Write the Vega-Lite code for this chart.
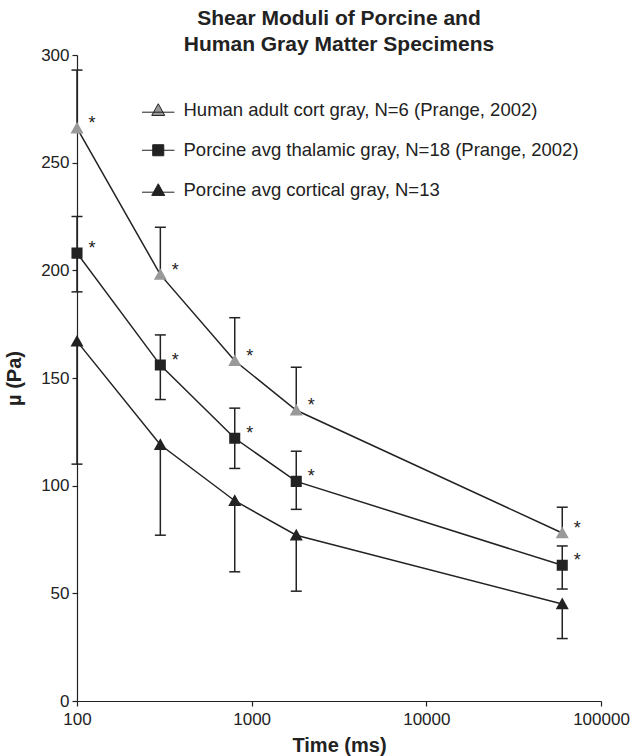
{
  "$schema": "https://vega.github.io/schema/vega-lite/v6.json",
  "width": 524,
  "height": 646,
  "autosize": "none",
  "padding": {"left": 77, "top": 55, "right": 32, "bottom": 55},
  "background": "white",
  "config": {
    "font": "Liberation Sans",
    "view": {"stroke": null},
    "axis": {
      "grid": false,
      "domainColor": "#222",
      "domainWidth": 1.2,
      "tickColor": "#222",
      "tickWidth": 1.2,
      "tickSize": 5,
      "labelColor": "#222",
      "labelFontSize": 17,
      "labelFont": "Liberation Sans",
      "titleColor": "#222",
      "titleFontSize": 20,
      "titleFontWeight": "bold",
      "titleFont": "Liberation Sans"
    }
  },
  "title": {
    "text": ["Shear Moduli of Porcine and", "Human Gray Matter Specimens"],
    "fontSize": 21,
    "fontWeight": "bold",
    "font": "Liberation Sans",
    "color": "#222",
    "lineHeight": 26,
    "anchor": "middle",
    "offset": -9
  },
  "datasets": {
    "pts": [
      {"series": "Human adult cort gray, N=6 (Prange, 2002)", "t": 100, "mu": 266, "star": "*"},
      {"series": "Human adult cort gray, N=6 (Prange, 2002)", "t": 300, "mu": 198, "star": "*"},
      {"series": "Human adult cort gray, N=6 (Prange, 2002)", "t": 800, "mu": 158, "star": "*"},
      {"series": "Human adult cort gray, N=6 (Prange, 2002)", "t": 1800, "mu": 135, "star": "*"},
      {"series": "Human adult cort gray, N=6 (Prange, 2002)", "t": 60000, "mu": 78, "star": "*"},
      {"series": "Porcine avg thalamic gray, N=18  (Prange, 2002)", "t": 100, "mu": 208, "star": "*"},
      {"series": "Porcine avg thalamic gray, N=18  (Prange, 2002)", "t": 300, "mu": 156, "star": "*"},
      {"series": "Porcine avg thalamic gray, N=18  (Prange, 2002)", "t": 800, "mu": 122, "star": "*"},
      {"series": "Porcine avg thalamic gray, N=18  (Prange, 2002)", "t": 1800, "mu": 102, "star": "*"},
      {"series": "Porcine avg thalamic gray, N=18  (Prange, 2002)", "t": 60000, "mu": 63, "star": "*"},
      {"series": "Porcine avg cortical gray, N=13", "t": 100, "mu": 167, "star": ""},
      {"series": "Porcine avg cortical gray, N=13", "t": 300, "mu": 119, "star": ""},
      {"series": "Porcine avg cortical gray, N=13", "t": 800, "mu": 93, "star": ""},
      {"series": "Porcine avg cortical gray, N=13", "t": 1800, "mu": 77, "star": ""},
      {"series": "Porcine avg cortical gray, N=13", "t": 60000, "mu": 45, "star": ""}
    ],
    "err": [
      {"t": 100, "from": 266, "to": 293},
      {"t": 300, "from": 198, "to": 220},
      {"t": 800, "from": 158, "to": 178},
      {"t": 1800, "from": 135, "to": 155},
      {"t": 60000, "from": 78, "to": 90},
      {"t": 100, "from": 208, "to": 225},
      {"t": 100, "from": 208, "to": 190},
      {"t": 300, "from": 156, "to": 170},
      {"t": 300, "from": 156, "to": 140},
      {"t": 800, "from": 122, "to": 136},
      {"t": 800, "from": 122, "to": 108},
      {"t": 1800, "from": 102, "to": 116},
      {"t": 1800, "from": 102, "to": 89},
      {"t": 60000, "from": 63, "to": 72},
      {"t": 60000, "from": 63, "to": 52},
      {"t": 100, "from": 167, "to": 110},
      {"t": 300, "from": 119, "to": 77},
      {"t": 800, "from": 93, "to": 60},
      {"t": 1800, "from": 77, "to": 51},
      {"t": 60000, "from": 45, "to": 29}
    ]
  },
  "layer": [
    {
      "data": {"name": "pts"},
      "mark": {"type": "line", "color": "#222", "strokeWidth": 1.5},
      "encoding": {
        "x": {
          "field": "t", "type": "quantitative", "title": "Time (ms)",
          "scale": {"type": "log", "domain": [100, 100000], "nice": false},
          "axis": {"values": [100, 1000, 10000, 100000], "format": "d", "labelPadding": 5, "titlePadding": 8, "labelFlush": false}
        },
        "y": {
          "field": "mu", "type": "quantitative", "title": "µ (Pa)",
          "scale": {"domain": [0, 300], "nice": false, "zero": true},
          "axis": {"values": [0, 50, 100, 150, 200, 250, 300], "labelPadding": 3, "titlePadding": 16, "labelFlush": false}
        },
        "detail": {"field": "series"}
      }
    },
    {
      "data": {"name": "err"},
      "mark": {"type": "rule", "color": "#222", "strokeWidth": 1.5},
      "encoding": {
        "x": {"field": "t", "type": "quantitative", "title": "Time (ms)"},
        "y": {"field": "from", "type": "quantitative", "title": "µ (Pa)"},
        "y2": {"field": "to"}
      }
    },
    {
      "data": {"name": "err"},
      "mark": {"type": "tick", "orient": "horizontal", "color": "#222", "size": 11, "thickness": 1.5, "opacity": 1},
      "encoding": {
        "x": {"field": "t", "type": "quantitative", "title": "Time (ms)"},
        "y": {"field": "to", "type": "quantitative", "title": "µ (Pa)"}
      }
    },
    {
      "data": {"name": "pts"},
      "mark": {"type": "point", "filled": true, "opacity": 1, "size": 169, "strokeWidth": 0},
      "encoding": {
        "x": {"field": "t", "type": "quantitative", "title": "Time (ms)"},
        "y": {"field": "mu", "type": "quantitative", "title": "µ (Pa)"},
        "color": {
          "field": "series", "type": "nominal",
          "scale": {
            "domain": ["Human adult cort gray, N=6 (Prange, 2002)", "Porcine avg thalamic gray, N=18  (Prange, 2002)", "Porcine avg cortical gray, N=13"],
            "range": ["#999999", "#222222", "#222222"]
          },
          "legend": {
            "orient": "none", "legendX": 72, "legendY": 46, "title": null,
            "labelFontSize": 18.5, "labelFont": "Liberation Sans", "labelColor": "#222", "labelLimit": 0,
            "symbolStrokeColor": "#222", "symbolStrokeWidth": 1, "symbolSize": 169,
            "labelOffset": 16, "rowPadding": 21, "symbolOpacity": 1,
            "encode": {"symbols": {"update": {"stroke": {"value": "#222"}, "strokeWidth": {"value": 1}}}}
          }
        },
        "shape": {
          "field": "series", "type": "nominal",
          "scale": {
            "domain": ["Human adult cort gray, N=6 (Prange, 2002)", "Porcine avg thalamic gray, N=18  (Prange, 2002)", "Porcine avg cortical gray, N=13"],
            "range": [
              "M-2.5,0.3H2.5M0,-1L1,0.8L-1,0.8Z",
              "M-2.5,0H2.5M-0.85,-0.85H0.85V0.85H-0.85Z",
              "M-2.5,0.3H2.5M0,-1L1,0.8L-1,0.8Z"
            ]
          }
        }
      }
    },
    {
      "data": {"name": "pts"},
      "mark": {"type": "text", "fontSize": 18, "color": "#222", "dx": 15, "dy": -4, "align": "center", "baseline": "middle"},
      "encoding": {
        "x": {"field": "t", "type": "quantitative", "title": "Time (ms)"},
        "y": {"field": "mu", "type": "quantitative", "title": "µ (Pa)"},
        "text": {"field": "star"}
      }
    }
  ]
}
